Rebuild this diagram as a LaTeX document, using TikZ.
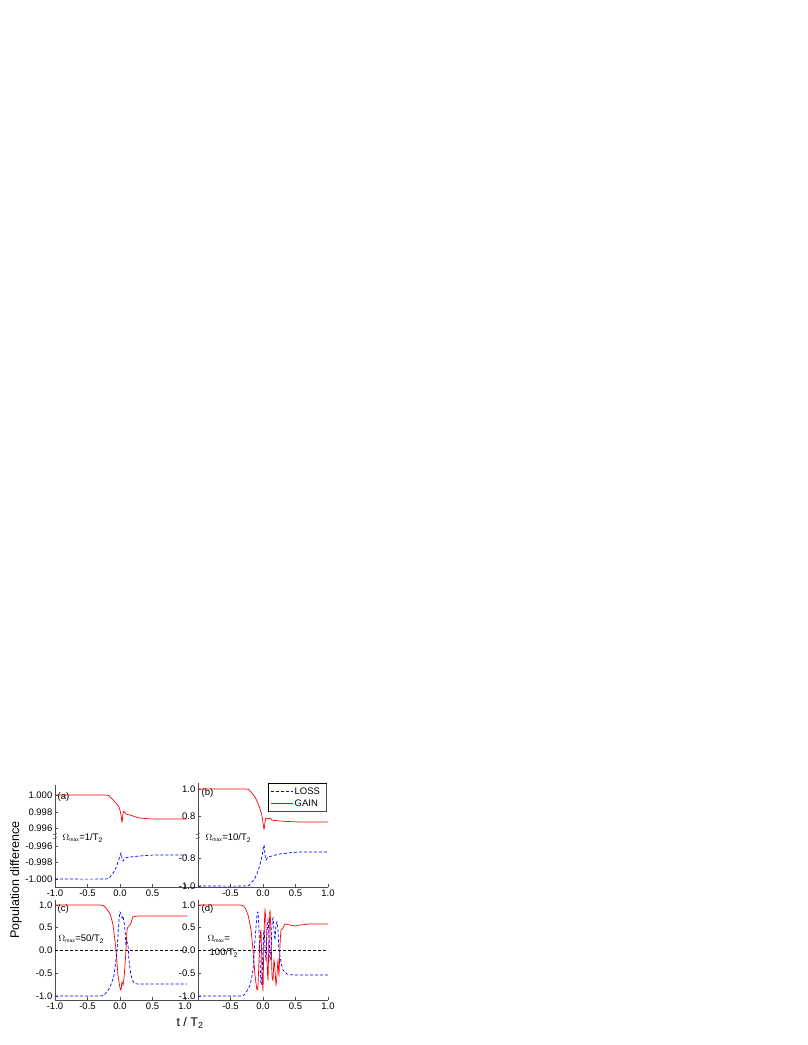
\documentclass[tikz,border=0pt]{standalone}
\usepackage{fontspec}
\setmainfont{Liberation Sans}
\begin{document}
\begin{tikzpicture}[x=1pt,y=-1pt,
  tl/.style={font=\fontsize{9.5}{11}\selectfont,inner sep=0.5pt},
  yl/.style={tl,anchor=east},
  xl/.style={tl,anchor=north},
  gain/.style={red,line width=0.7pt},
  loss/.style={blue,dashed,line width=0.7pt,dash pattern=on 3pt off 2pt},
  zero/.style={black,dashed,line width=0.6pt,dash pattern=on 3pt off 2pt},
  ax/.style={line width=0.5pt,gray!60!black}]
\useasboundingbox (0,0) rectangle (808,1045);
% axes
\draw[ax] (55,785) -- (55,887) -- (328,887);
\draw[ax] (198,783) -- (198,887);
\draw[ax] (55,900) -- (55,1000) -- (328,1000);
\draw[ax] (198,900) -- (198,1000);
% x ticks
\foreach \x in {55,87.5,120,152.5,185}{\draw[ax] (\x,887) -- (\x,884); \draw[ax] (\x,1000) -- (\x,997);}
\foreach \x in {230.5,263,295.5,328}{\draw[ax] (\x,887) -- (\x,884); \draw[ax] (\x,1000) -- (\x,997);}
\foreach \x/\l in {55/-1.0,87.5/-0.5,120/0.0,152.5/0.5}{\node[xl] at (\x,889) {\l};}
\foreach \x/\l in {230.5/-0.5,263/0.0,295.5/0.5,328/1.0}{\node[xl] at (\x,889) {\l};}
\foreach \x/\l in {55/-1.0,87.5/-0.5,120/0.0,152.5/0.5,185/1.0}{\node[xl] at (\x,1002) {\l};}
\foreach \x/\l in {230.5/-0.5,263/0.0,295.5/0.5,328/1.0}{\node[xl] at (\x,1002) {\l};}
% y ticks a
\foreach \y/\l in {795/1.000,812/0.998,828/0.996,846/-0.996,862/-0.998,879/-1.000}{\draw[ax] (55,\y) -- (58,\y); \node[yl] at (53,\y) {\l};}
\foreach \y/\l in {789/1.0,816/0.8,858/-0.8,886/-1.0}{\draw[ax] (198,\y) -- (201,\y); \node[yl] at (196,\y) {\l};}
\foreach \y/\l in {905/1.0,927.5/0.5,950/0.0,973/-0.5,996/-1.0}{\draw[ax] (55,\y) -- (58,\y); \node[yl] at (53,\y) {\l};
  \draw[ax] (198,\y) -- (201,\y); \node[yl] at (196,\y) {\l};}
% axis breaks
\foreach \x in {55,198}{\draw[ax,fill=white] (\x-2,835) -- (\x+2,833) (\x-2,839) -- (\x+2,837);}
% zero lines
\draw[zero] (55,950) -- (187,950);
\draw[zero] (198,950) -- (328,950);
% panel a
\draw[gain] plot[smooth,tension=0.4] coordinates {(55,795) (105,795) (110,797) (115,802) (119,807) (121,815) (122,822) (123,814) (124,811) (126,814) (130,815) (140,818) (155,819) (187,819)};
\draw[loss] plot[smooth,tension=0.4] coordinates {(55,879) (105,879) (110,877) (115,870) (118,862) (120,856) (121,853) (122,858) (123,861) (125,858) (130,857) (140,856) (155,855) (187,855)};
% panel b
\draw[gain] plot[smooth,tension=0.4] coordinates {(198,789) (245,789) (250,791) (255,797) (259,806) (262,816) (264,829) (265,822) (266,818) (268,819) (270,818) (272,820) (280,821) (300,822) (328,822)};
\draw[loss] plot[smooth,tension=0.4] coordinates {(198,886) (245,886) (250,884) (255,878) (259,868) (262,856) (264,845) (265,855) (266,860) (268,857) (272,856) (280,854) (300,852) (328,852)};
% panel c
\draw[gain] plot[smooth,tension=0.3] coordinates {(55,905) (100,905) (105,907) (110,914) (113,925) (116,950) (118,975) (120,988) (121,990) (122,982) (123,985) (124,978) (125,965) (126,950) (127,930) (128,927) (130,925) (131,923) (133,917) (140,916) (187,916)};
\draw[loss] plot[smooth,tension=0.3] coordinates {(55,996) (100,996) (105,994) (110,987) (114,975) (117,950) (119,920) (120,912) (121,914) (122,918) (123,916) (124,922) (125,930) (126,945) (127,942) (128,945) (129,960) (131,975) (134,983) (140,984) (187,984)};
% panel d
\draw[gain] plot[smooth,tension=0.3] coordinates {(198,905) (240,905) (245,908) (248,915) (251,930) (253,950) (255,975) (257,990) (258,985) (259,960) (260,940) (261,930) (262,970) (263,990) (264,935) (265,910) (266,925) (267,960) (268,980) (269,935) (270,910) (271,935) (272,975) (273,980) (274,960) (275,970) (276,985) (277,975) (278,960) (279,975) (280,945) (281,930) (283,928) (285,924) (290,925) (295,926) (300,925) (310,924) (328,924)};
\draw[loss] plot[smooth,tension=0.3] coordinates {(198,996) (240,996) (245,994) (250,985) (253,970) (255,940) (257,915) (258,912) (259,930) (260,960) (261,985) (262,975) (263,950) (264,930) (265,945) (266,960) (267,935) (268,920) (269,935) (270,960) (271,950) (272,925) (273,918) (274,930) (275,940) (276,925) (277,922) (278,930) (279,950) (281,962) (283,970) (287,974) (295,975) (328,975)};
% panel labels
\node[tl,anchor=west] (la) at (57,797) {(a)};
\node[tl,anchor=west] (lb) at (201,793) {(b)};
\node[tl,anchor=west] (lc) at (57,909) {(c)};
\node[tl,anchor=west] (ld) at (201,909) {(d)};
\node[tl,anchor=west] (oa) at (62,838) {$\Omega$\textsubscript{\tiny max}=1/T\textsubscript{2}};
\node[tl,anchor=west] (ob) at (205,838) {$\Omega$\textsubscript{\tiny max}=10/T\textsubscript{2}};
\node[tl,anchor=west] (oc) at (58,939) {$\Omega$\textsubscript{\tiny max}=50/T\textsubscript{2}};
\node[tl,anchor=west] (od) at (207,939) {$\Omega$\textsubscript{\tiny max}=};
\node[tl,anchor=west] (od2) at (209,953) {100/T\textsubscript{2}};
% legend
\draw[line width=0.5pt,fill=white] (268,783) rectangle (326,811);
\draw[line width=0.8pt,black!70] (326.5,784) -- (326.5,811.5) -- (269,811.5);
\draw[loss] (271,791) -- (293,791);
\node[tl,anchor=west] (ll) at (294,791) {LOSS};
\draw[gain] (271,803) -- (293,803);
\node[tl,anchor=west] (lg) at (294,803) {GAIN};
% axis labels
\node[rotate=90,font=\fontsize{12.5}{14}\selectfont] (yl) at (16,880) {Population difference};
\node[font=\fontsize{12.5}{14}\selectfont] (xlab) at (190,1023) {t / T\textsubscript{2}};
\end{tikzpicture}
\end{document}
